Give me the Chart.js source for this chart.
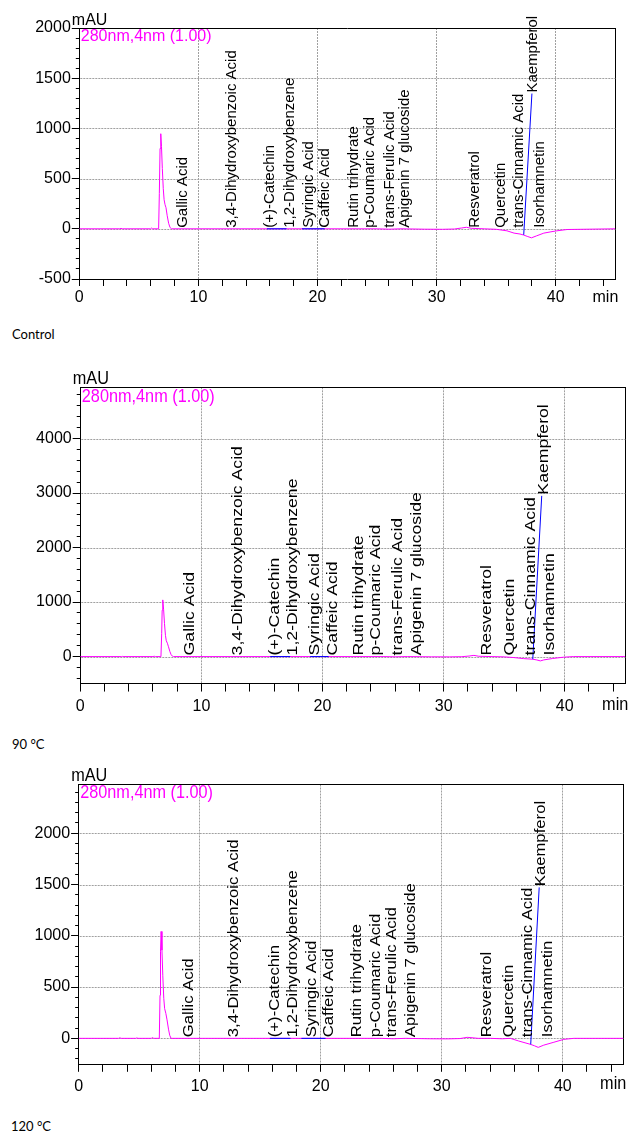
<!DOCTYPE html>
<html><head><meta charset="utf-8">
<script src="https://cdn.jsdelivr.net/npm/chart.js@4.4.1/dist/chart.umd.min.js"></script>
<style>
html,body{margin:0;padding:0;background:#fff;width:629px;height:1134px;overflow:hidden;position:relative}
canvas{position:absolute;left:0;display:block}
.cap{position:absolute;left:12px;font-family:Lato,"Noto Sans",sans-serif;font-size:13px;color:#000;line-height:16px;white-space:nowrap}
</style></head><body>
<canvas id="c1" width="629" height="310" style="top:0px;width:629px;height:310px"></canvas>
<div class="cap" style="top:326px">Control</div>
<canvas id="c2" width="629" height="366" style="top:354px;width:629px;height:366px"></canvas>
<div class="cap" style="top:736px">90 °C</div>
<canvas id="c3" width="629" height="345" style="top:753px;width:629px;height:345px"></canvas>
<div class="cap" style="top:1118px;left:11px">120 °C</div>
<script>
// ---- compound names (shared) ----
const names = ["Gallic Acid","3,4-Dihydroxybenzoic Acid","(+)-Catechin","1,2-Dihydroxybenzene","Syringic Acid","Caffeic Acid","Rutin trihydrate","p-Coumaric Acid","trans-Ferulic Acid","Apigenin 7 glucoside","Resveratrol","Quercetin","trans-Cinnamic Acid","Kaempferol","Isorhamnetin"];

// ---- x axis ----
const xMajor = [0,10,20,30,40];
const xMinorStep = 2;
const xMin = 0, xMax = 45;

// ---- Panel 1 : Control ----
const t1 = [0,3.4,3.5,3.6,6.0,6.08,6.16,6.66,6.72,6.78,6.84,6.9,6.97,7.05,7.12,7.2,7.28,7.38,7.5,7.62,7.75,16,25,26,27,29,30.5,31.5,32.1,32.5,32.9,34,35,35.9,36.5,37.0,37.3,37.6,37.96,38.4,39.0,39.6,40.1,40.96,45];
const v1 = [0,0,4,0,0,8,0,0,350,800,947,820,600,400,290,240,210,130,55,12,0,0,0,-4,0,-4,-5,-2,8,15,5,0,-5,-20,-43,-52,-62,-75,-90,-70,-43,-30,-20,-7,0];
const labelTimes1 = [8.67,12.8,16.0,17.7,19.25,20.65,23.06,24.36,26.1,27.3,33.25,35.4,36.9,38.1,38.65];
const kaempX1 = [37.31,38.0], kaempY1 = [-60,1347];
const baseStart1 = [15.75,18.7], baseEnd1 = [17.4,20.6];
const yMajor1 = [-500,0,500,1000,1500,2000];
const yMinorStep1 = 100, yMin1 = -500, yMax1 = 2000;

// ---- Panel 2 : 90 °C ----
const t2 = [0,3.4,3.5,3.6,6.0,6.1,6.2,6.66,6.72,6.76,6.81,6.88,6.95,7.03,7.1,7.19,7.28,7.4,7.5,7.6,7.7,16,25,26,27,29,30.5,31.5,32.1,32.5,32.9,34,35,35.8,36.6,37.36,37.7,37.99,38.27,39.0,39.9,40.7,45];
const v2 = [0,0,4,0,0,6,0,0,420,850,1040,860,610,390,290,245,180,90,35,8,0,0,0,-4,0,-4,-5,-2,10,22,6,0,-5,-18,-37,-48,-62,-79,-61,-35,-11,0,0];
const labelTimes2 = [9.04,12.99,16.09,17.54,19.4,20.84,23.03,24.42,26.21,27.8,33.59,35.5,37.17,38.27,38.74];
const kaempX2 = [37.36,38.1], kaempY2 = [-48,2949];
const baseStart2 = [15.68,18.98], baseEnd2 = [17.33,20.5];
const yMajor2 = [0,1000,2000,3000,4000];
const yMinorStep2 = 200, yMin2 = -490, yMax2 = 4940;

// ---- Panel 3 : 120 °C ----
const t3 = [0,3.3,3.4,3.5,4.7,4.8,4.9,6.0,6.1,6.2,6.66,6.72,6.76,6.81,6.88,6.95,7.03,7.1,7.2,7.3,7.42,7.52,7.63,16,25,26,27,29,30.5,31.5,32.1,32.5,33,34,35,35.67,36.36,37.35,37.65,37.97,38.43,39.2,40.08,40.9,45];
const v3 = [0,0,6,0,0,4,0,0,8,0,0,420,850,1042,860,610,390,290,244,180,90,30,0,0,0,-4,0,-4,-5,-2,10,6,0,0,-4,0,-26,-59,-72,-88,-66,-40,-10,0,0];
const labelTimes3 = [9.07,12.79,16.24,17.68,19.27,20.65,22.99,24.57,25.85,27.47,33.75,35.53,37.12,38.15,38.77];
const kaempX3 = [37.35,38.05], kaempY3 = [-59,1472];
const baseStart3 = [15.8,18.4], baseEnd3 = [17.5,20.4];
const yMajor3 = [0,500,1000,1500,2000];
const yMinorStep3 = 100, yMin3 = -250, yMax3 = 2475;

const FONT = '"Liberation Sans", Arial, sans-serif';
const MAGENTA = '#ff00ff', BLUE = '#0000ff', GRID = '#a0a0a0', NONE = 'rgba(255,255,255,0)';

// layout of each panel on the page (page pixels): canvas top/height, plot box, text stretch
const geom1 = {top: 0,   h: 310, L: 79.3, T: 28,    R: 615.3, B: 279,  sx: 1,      sy: 1,      xPad: 2};
const geom2 = {top: 354, h: 366, L: 80.3, T: 387.3, R: 625.3, B: 683.3, sx: 1.0168, sy: 1.179, xPad: 5.2};
const geom3 = {top: 753, h: 345, L: 78.7, T: 784.5, R: 623.3, B: 1064, sx: 1.016,  sy: 1.1135, xPad: 4.8};

function build(id, p, g) {
  const datasets = [];
  p.bs.forEach((s, i) => datasets.push({data: [{x: s, y: 0}, {x: p.be[i], y: 0}], borderColor: BLUE}));
  datasets.push({data: p.kx.map((x, i) => ({x, y: p.ky[i]})), borderColor: BLUE});
  datasets.push({data: p.t.map((t, i) => ({x: t, y: p.v[i]})), borderColor: MAGENTA});

  const yMinorVals = [];
  for (let v = Math.ceil(p.yMin / p.yStep) * p.yStep; v <= p.yMax + 1e-9; v += p.yStep) yMinorVals.push(v);
  const yMajorVals = p.yMajor.filter(v => v >= p.yMin && v <= p.yMax);
  const yGridVals = yMajorVals.filter(v => v > p.yMin && v < p.yMax);
  const xTickVals = [];
  for (let v = xMin; v <= xMax; v += xMinorStep) xTickVals.push(v);
  const isMajorX = v => xMajor.includes(v);

  const textAt = (ctx, txt, x, y, align) => {
    ctx.save();
    ctx.translate(x, y);
    ctx.scale(g.sx, g.sy);
    ctx.textAlign = align;
    ctx.fillText(txt, 0, 0);
    ctx.restore();
  };

  // horizontal dotted grid lines at the y scale's major values
  const hGridPlugin = {
    id: 'hgrid' + id,
    beforeDatasetsDraw(chart) {
      const ctx = chart.ctx, ys = chart.scales.y, ca = chart.chartArea;
      ctx.save();
      ctx.strokeStyle = GRID;
      ctx.lineWidth = 1;
      ctx.setLineDash([2, 1]);
      yGridVals.forEach(v => {
        const py = Math.round(ys.getPixelForValue(v)) + 0.5;
        ctx.beginPath();
        ctx.moveTo(ca.left + 1, py);
        ctx.lineTo(ca.right, py);
        ctx.stroke();
      });
      ctx.restore();
    }
  };

  const labelPlugin = {
    id: 'labels' + id,
    afterDraw(chart) {
      const ctx = chart.ctx, xs = chart.scales.x, ys = chart.scales.y, ca = chart.chartArea;
      ctx.save();
      ctx.fillStyle = '#000';
      ctx.font = '15px ' + FONT;
      ctx.textAlign = 'left';
      ctx.textBaseline = 'middle';
      names.forEach((n, i) => {
        const base = (n === 'Kaempferol') ? p.ky[1] : 0;
        const px = xs.getPixelForValue(p.lt[i]);
        const py = ys.getPixelForValue(base) - g.sy;
        ctx.save();
        ctx.translate(px, py);
        ctx.scale(g.sx, g.sy);
        ctx.rotate(-Math.PI / 2);
        ctx.fillText(n, 0, 0);
        ctx.restore();
      });
      ctx.textBaseline = 'alphabetic';
      ctx.font = '16px ' + FONT;
      textAt(ctx, 'mAU', ca.left - 7.5, ca.top - 3 * g.sy, 'left');
      ctx.fillStyle = MAGENTA;
      textAt(ctx, '280nm,4nm (1.00)', ca.left + 1.5, ca.top + 12.5 * g.sy, 'left');
      ctx.fillStyle = '#000';
      textAt(ctx, 'min', ca.right + 3, ca.bottom + 22.5 * g.sy, 'right');
      ctx.restore();
    }
  };

  return new Chart(document.getElementById(id), {
    type: 'line',
    data: {datasets},
    plugins: [hGridPlugin, labelPlugin],
    options: {
      responsive: false, animation: false, devicePixelRatio: 1,
      layout: {padding: {top: g.T - g.top, right: 629 - g.R, left: 0, bottom: 0}},
      elements: {point: {radius: 0}, line: {borderWidth: 1, tension: 0, fill: false}},
      plugins: {legend: {display: false}, tooltip: {enabled: false}},
      scales: {
        x: {
          type: 'linear', position: 'bottom', min: xMin, max: xMax,
          afterBuildTicks: s => { s.ticks = xTickVals.map(v => ({value: v})); },
          afterFit: s => { s.height = g.top + g.h - g.B; },
          ticks: {autoSkip: false, maxRotation: 0, padding: g.xPad, color: '#000', font: {family: FONT, size: 16},
            callback: v => isMajorX(v) ? String(v) : ''},
          grid: {display: true, drawOnChartArea: true, drawTicks: true,
            color: xTickVals.map(v => (isMajorX(v) && v > xMin) ? GRID : NONE),
            tickColor: '#000', tickLength: 7 * g.sy, lineWidth: 1},
          border: {display: true, color: '#000', width: 1, dash: [2, 1]}
        },
        y: {
          type: 'linear', position: 'left', weight: 1, min: p.yMin, max: p.yMax,
          afterBuildTicks: s => { s.ticks = yMajorVals.map(v => ({value: v})); },
          afterFit: s => { s.width = g.L; },
          ticks: {autoSkip: false, padding: 1, color: '#000', font: {family: FONT, size: 16},
            callback: v => String(v)},
          grid: {display: true, drawOnChartArea: false, drawTicks: true, color: '#000',
            tickColor: '#000', tickLength: 7.5 * g.sx, lineWidth: 1},
          border: {display: true, color: '#000', width: 1}
        },
        yMinor: {
          type: 'linear', position: 'left', weight: 0, min: p.yMin, max: p.yMax,
          afterBuildTicks: s => { s.ticks = yMinorVals.map(v => ({value: v})); },
          afterFit: s => { s.width = 0; },
          ticks: {display: false},
          grid: {display: true, drawOnChartArea: false, drawTicks: true, color: '#000',
            tickColor: '#000', tickLength: 3.5 * g.sx, lineWidth: 1},
          border: {display: false}
        },
        x2: {
          type: 'linear', position: 'top', min: 0, max: 1,
          afterFit: s => { s.height = 0; },
          ticks: {display: false}, grid: {drawOnChartArea: false, drawTicks: false},
          border: {display: true, color: '#000', width: 1}
        },
        y2: {
          type: 'linear', position: 'right', min: 0, max: 1,
          afterFit: s => { s.width = 0; },
          ticks: {display: false}, grid: {drawOnChartArea: false, drawTicks: false},
          border: {display: true, color: '#000', width: 1}
        }
      }
    }
  });
}

build('c1', {t: t1, v: v1, lt: labelTimes1, kx: kaempX1, ky: kaempY1, bs: baseStart1, be: baseEnd1, yMajor: yMajor1, yStep: yMinorStep1, yMin: yMin1, yMax: yMax1}, geom1);
build('c2', {t: t2, v: v2, lt: labelTimes2, kx: kaempX2, ky: kaempY2, bs: baseStart2, be: baseEnd2, yMajor: yMajor2, yStep: yMinorStep2, yMin: yMin2, yMax: yMax2}, geom2);
build('c3', {t: t3, v: v3, lt: labelTimes3, kx: kaempX3, ky: kaempY3, bs: baseStart3, be: baseEnd3, yMajor: yMajor3, yStep: yMinorStep3, yMin: yMin3, yMax: yMax3}, geom3);
</script>
</body></html>
